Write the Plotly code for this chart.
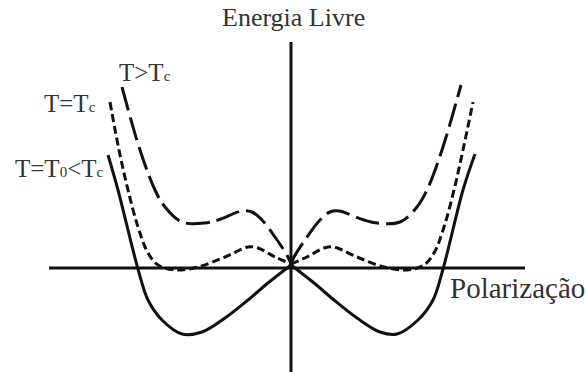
import plotly.graph_objects as go

# Polarization (P) and free energy (F) values (arbitrary units)
# Solid curve: T = T0 < Tc
P_solid_left = [-1.83, -1.73, -1.53, -1.43, -1.29, -1.09, -0.89, -0.66, -0.43, -0.23, 0.0]
F_solid_left = [1.13, 0.78, -0.01, -0.32, -0.52, -0.66, -0.64, -0.50, -0.32, -0.15, 0.03]
P_solid_right = [0.0, 0.23, 0.43, 0.66, 0.89, 1.06, 1.27, 1.42, 1.52, 1.72, 1.84]
F_solid_right = [0.03, -0.15, -0.32, -0.50, -0.64, -0.66, -0.52, -0.32, -0.01, 0.78, 1.14]

# Short-dashed curve: T = Tc
P_tc_left = [-1.81, -1.72, -1.63, -1.53, -1.43, -1.33, -1.16, -0.93, -0.66, -0.43, -0.33, -0.16, 0.0]
F_tc_left = [1.66, 1.18, 0.78, 0.41, 0.15, 0.03, -0.02, 0.01, 0.11, 0.21, 0.20, 0.11, 0.04]
P_tc_right = [0.0, 0.16, 0.33, 0.43, 0.66, 0.93, 1.16, 1.33, 1.43, 1.53, 1.63, 1.72, 1.82]
F_tc_right = [0.04, 0.11, 0.20, 0.21, 0.11, 0.01, -0.02, 0.03, 0.15, 0.41, 0.78, 1.18, 1.66]

# Long-dashed curve: T > Tc
P_hi_left = [-1.69, -1.51, -1.36, -1.26, -1.09, -0.86, -0.73, -0.49, -0.39, -0.29, -0.16, -0.03, 0.0]
F_hi_left = [1.81, 1.18, 0.78, 0.61, 0.46, 0.45, 0.48, 0.57, 0.56, 0.48, 0.31, 0.11, 0.04]
P_hi_right = [0.0, 0.03, 0.16, 0.29, 0.39, 0.48, 0.73, 0.86, 1.09, 1.26, 1.36, 1.51, 1.70]
F_hi_right = [0.04, 0.11, 0.31, 0.48, 0.56, 0.57, 0.48, 0.45, 0.46, 0.61, 0.78, 1.18, 1.83]

# Axis extents
P_axis = [-2.42, 2.34]
F_axis = [-1.05, 2.26]

fig = go.Figure()

ink = "#111111"
# axes
fig.add_trace(go.Scatter(x=P_axis, y=[0, 0], mode="lines",
                         line=dict(color=ink, width=3), hoverinfo="skip"))
fig.add_trace(go.Scatter(x=[0, 0], y=F_axis, mode="lines",
                         line=dict(color=ink, width=3), hoverinfo="skip"))

curves = [
    (P_solid_left, F_solid_left, "solid"),
    (P_solid_right, F_solid_right, "solid"),
    (P_tc_left, F_tc_left, "8px,4px"),
    (P_tc_right, F_tc_right, "8px,4px"),
    (P_hi_left, F_hi_left, "24px,7px"),
    (P_hi_right, F_hi_right, "24px,7px"),
]
for px, fy, dash in curves:
    fig.add_trace(go.Scatter(x=px, y=fy, mode="lines",
                             line=dict(color=ink, width=3, dash=dash,
                                       shape="spline", smoothing=1.0)))

times = "Liberation Serif"
txt = "#333333"
sub = "<span style='font-size:15px'>{}</span>"
annotations = [
    dict(x=0.02, y=2.51, text="Energia Livre", xanchor="center", yanchor="middle",
         font=dict(family=times, size=26, color=txt)),
    dict(x=1.57, y=-0.20, text="Polarização", xanchor="left", yanchor="middle",
         font=dict(family=times, size=29, color=txt)),
    dict(x=-1.74, y=1.96, text="T&gt;T" + sub.format("c"),
         xanchor="left", yanchor="middle", font=dict(family=times, size=25, color=txt)),
    dict(x=-2.49, y=1.65, text="T=T" + sub.format("c"),
         xanchor="left", yanchor="middle", font=dict(family=times, size=25, color=txt)),
    dict(x=-2.78, y=1.00,
         text="T=T" + sub.format("0") + "&lt;T" + sub.format("c"),
         xanchor="left", yanchor="middle", font=dict(family=times, size=25, color=txt)),
]
for a in annotations:
    a.update(showarrow=False, xref="x", yref="y")

fig.update_layout(
    width=587, height=372,
    margin=dict(l=0, r=0, t=0, b=0),
    paper_bgcolor="white", plot_bgcolor="white",
    showlegend=False,
    annotations=annotations,
    xaxis=dict(range=[-2.91, 2.96], visible=False, fixedrange=True),
    yaxis=dict(range=[-1.04, 2.68], visible=False, fixedrange=True),
)

fig.write_html("out.html", config={"displayModeBar": False},
               post_script="document.body.style.margin='0';document.body.style.overflow='hidden';")
